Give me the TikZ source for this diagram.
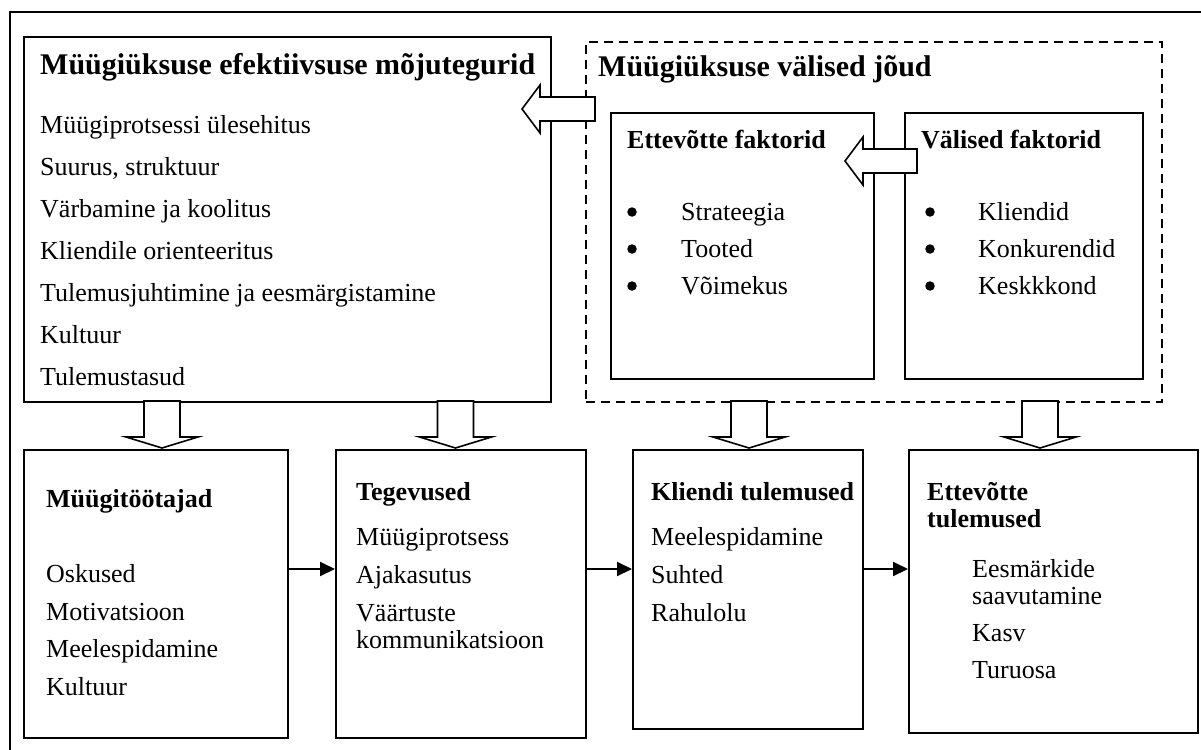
\documentclass[tikz,border=0pt]{standalone}
\usepackage{fontspec}
\setmainfont{Liberation Serif}
\usetikzlibrary{arrows.meta}
\begin{document}
\begin{tikzpicture}[x=1pt,y=-1pt,
 box/.style={draw,line width=2pt,inner sep=0pt,anchor=north west},
 txt/.style={inner sep=0pt,anchor=base west,font=\fontsize{26}{30}\selectfont},
 ttl/.style={inner sep=0pt,anchor=base west,font=\fontsize{30}{34}\selectfont\bfseries},
 sub/.style={inner sep=0pt,anchor=base west,font=\fontsize{26}{30}\selectfont\bfseries},
 bul/.style={circle,fill,inner sep=0pt,minimum size=9.5pt},
 blk/.style={draw,fill=white,line width=1.6pt,line join=miter},
 conn/.style={line width=2pt,-{Triangle[length=15pt,width=14pt]}}
]
\useasboundingbox (0,0) rectangle (1201,749);
% outer frame
\draw[line width=2pt] (10,770) -- (10,12) -- (1220,12);

% boxes
\node[box,minimum width=527pt,minimum height=365pt] (tl) at (23,36) {};
\node[box,dashed,dash pattern=on 9pt off 6pt,minimum width=576pt,minimum height=360pt] (ext) at (585,41) {};
\node[box,minimum width=263pt,minimum height=266pt] (ef) at (610,112) {};
\node[box,minimum width=238pt,minimum height=266pt] (vf) at (904,112) {};
\node[box,minimum width=264pt,minimum height=288pt] (b1) at (23,449) {};
\node[box,minimum width=250pt,minimum height=288pt] (b2) at (335,449) {};
\node[box,minimum width=230pt,minimum height=279pt] (b3) at (632,449) {};
\node[box,minimum width=289pt,minimum height=283pt] (b4) at (908,449) {};

% block arrows
\draw[blk] (595,97) -- (540,97) -- (540,85) -- (522,109) -- (540,133) -- (540,121) -- (595,121) -- cycle;
\draw[blk] (917,149) -- (863,149) -- (863,137) -- (845,161) -- (863,185) -- (863,173) -- (917,173) -- cycle;
\foreach \c in {162,455.5,749,1040}{
  \draw[blk] (\c-18,401) -- (\c-18,437) -- (\c-36,437) -- (\c,448) -- (\c+36,437) -- (\c+18,437) -- (\c+18,401) -- cycle;
}

% connectors
\coordinate (cy) at (0,569);
\draw[conn] (b1.east |- cy) -- (b2.west |- cy);
\draw[conn] (b2.east |- cy) -- (b3.west |- cy);
\draw[conn] (b3.east |- cy) -- (b4.west |- cy);

% texts top-left
\node[ttl] (t1) at (40,75) {Müügiüksuse efektiivsuse mõjutegurid};
\node[txt] (t1a) at (40,133) {Müügiprotsessi ülesehitus};
\node[txt] (t1b) at (40,175) {Suurus, struktuur};
\node[txt] (t1c) at (40,217) {Värbamine ja koolitus};
\node[txt] (t1d) at (40,259) {Kliendile orienteeritus};
\node[txt] (t1e) at (40,301) {Tulemusjuhtimine ja eesmärgistamine};
\node[txt] (t1f) at (40,343) {Kultuur};
\node[txt] (t1g) at (40,385) {Tulemustasud};

% external
\node[ttl] (t2) at (598,77) {Müügiüksuse välised jõud};
\node[sub] (t3) at (627,148) {Ettevõtte faktorid};
\node[bul] (t3b1) at (632,212) {};
\node[txt] (t3a) at (681,220) {Strateegia};
\node[bul] (t3b2) at (632,249) {};
\node[txt] (t3b) at (681,257) {Tooted};
\node[bul] (t3b3) at (632,286) {};
\node[txt] (t3c) at (681,294) {Võimekus};
\node[sub] (t4) at (921,148) {Välised faktorid};
\node[bul] (t4b1) at (930,212) {};
\node[txt] (t4a) at (978,220) {Kliendid};
\node[bul] (t4b2) at (930,249) {};
\node[txt] (t4b) at (978,257) {Konkurendid};
\node[bul] (t4b3) at (930,286) {};
\node[txt] (t4c) at (978,294) {Keskkkond};

% bottom
\node[sub] (s1) at (46,507) {Müügitöötajad};
\node[txt] (s1a) at (46,582) {Oskused};
\node[txt] (s1b) at (46,620) {Motivatsioon};
\node[txt] (s1c) at (46,657) {Meelespidamine};
\node[txt] (s1d) at (46,695) {Kultuur};

\node[sub] (s2) at (356,500) {Tegevused};
\node[txt] (s2a) at (356,545) {Müügiprotsess};
\node[txt] (s2b) at (356,583) {Ajakasutus};
\node[txt] (s2c) at (356,621) {Väärtuste};
\node[txt] (s2d) at (356,648) {kommunikatsioon};

\node[sub] (s3) at (651,500) {Kliendi tulemused};
\node[txt] (s3a) at (651,545) {Meelespidamine};
\node[txt] (s3b) at (651,583) {Suhted};
\node[txt] (s3c) at (651,621) {Rahulolu};

\node[sub] (s4) at (927,500) {Ettevõtte};
\node[sub] (s4x) at (927,527) {tulemused};
\node[txt] (s4a) at (972,577) {Eesmärkide};
\node[txt] (s4b) at (972,604) {saavutamine};
\node[txt] (s4c) at (972,641) {Kasv};
\node[txt] (s4d) at (972,678) {Turuosa};
\end{tikzpicture}
\end{document}
